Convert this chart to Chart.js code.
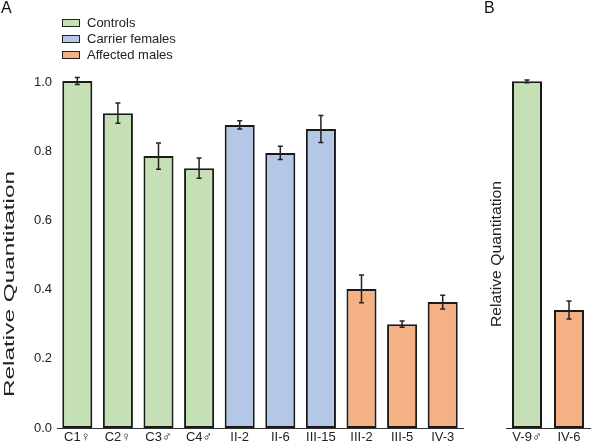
<!DOCTYPE html>
<html>
<head>
<meta charset="utf-8">
<script src="https://cdn.jsdelivr.net/npm/chart.js@4/dist/chart.umd.min.js"></script>
<style>
  body { margin: 0; background: #fff; font-family: 'Liberation Sans', Arial, sans-serif; }
  #wrap { position: relative; width: 600px; height: 448px; }
  #graphA { position: absolute; left: 0; top: 0; }
  #graphB { position: absolute; left: 470px; top: 0; }
  .panel { position: absolute; font-size: 16px; color: #111; }
  #legend { position: absolute; left: 62px; top: 15px; font-size: 13px; color: #222; }
  #legend div { height: 16px; line-height: 16px; display: flex; align-items: center; }
  #legend span.box { display: inline-block; width: 16px; height: 6px; border: 1.5px solid #222; margin-right: 7px; }
</style>
</head>
<body>
<div id="wrap">
  <canvas id="graphA" width="470" height="448"></canvas>
  <canvas id="graphB" width="130" height="448"></canvas>
  <div class="panel" style="left:1px; top:-1px;">A</div>
  <div class="panel" style="left:484px; top:-1px;">B</div>
  <div id="legend"></div>
</div>
<script>
// panel A
const labelsA = ['C1♀', 'C2♀', 'C3♂', 'C4♂', 'II-2', 'II-6', 'III-15', 'III-2', 'III-5', 'IV-3'];
const valuesA = [1.003, 0.910, 0.786, 0.751, 0.876, 0.795, 0.864, 0.402, 0.300, 0.364];
const errorsA = [0.010, 0.029, 0.038, 0.029, 0.012, 0.019, 0.039, 0.040, 0.009, 0.020];
const groupsA = ['Controls', 'Controls', 'Controls', 'Controls',
  'Carrier females', 'Carrier females', 'Carrier females',
  'Affected males', 'Affected males', 'Affected males'];

// panel B
const labelsB = ['V-9♂', 'IV-6'];
const valuesB = [1.002, 0.341];
const errorsB = [0.004, 0.026];
const groupsB = ['Controls', 'Affected males'];

const yTicks = [0, 0.2, 0.4, 0.6, 0.8, 1.0];
const groupNames = ['Controls', 'Carrier females', 'Affected males'];
const groupColors = {
  'Controls': '#c5e0b4',
  'Carrier females': '#b4c7e7',
  'Affected males': '#f4b183',
};
const yTitle = 'Relative Quantitation';

const legendRef = document.getElementById('legend');
for (const name of groupNames) {
  const row = document.createElement('div');
  row.innerHTML = `<span class="box" style="background:${groupColors[name]}"></span>${name}`;
  legendRef.appendChild(row);
}

// draws the error bars from the data arrays using the chart scales
const errorBarPlugin = {
  id: 'errorBars',
  afterDatasetsDraw(chart, args, opts) {
    const ctx = chart.ctx;
    const meta = chart.getDatasetMeta(0);
    const y = chart.scales.y;
    const vals = chart.data.datasets[0].data;
    ctx.save();
    ctx.strokeStyle = '#222';
    ctx.lineWidth = 1.5;
    meta.data.forEach((bar, i) => {
      const e = opts.errors[i];
      const top = y.getPixelForValue(vals[i] + e);
      const bottom = y.getPixelForValue(vals[i] - e);
      ctx.beginPath();
      ctx.moveTo(bar.x, top);
      ctx.lineTo(bar.x, bottom);
      ctx.moveTo(bar.x - 2.5, top);
      ctx.lineTo(bar.x + 2.5, top);
      ctx.moveTo(bar.x - 2.5, bottom);
      ctx.lineTo(bar.x + 2.5, bottom);
      ctx.stroke();
    });
    ctx.restore();
  },
};

// the y title in panel A is stretched along its length, so draw it by hand
const yTitlePlugin = {
  id: 'yTitle',
  afterDraw(chart, args, opts) {
    const ctx = chart.ctx;
    ctx.save();
    ctx.font = '15px "Liberation Sans"';
    ctx.fillStyle = '#222';
    ctx.textAlign = 'center';
    ctx.textBaseline = 'middle';
    const w = ctx.measureText(yTitle).width;
    ctx.translate(opts.x, opts.y);
    ctx.rotate(-Math.PI / 2);
    ctx.scale(opts.len / w, 1);
    ctx.fillText(yTitle, 0, 0);
    ctx.restore();
  },
};

function makeChart(el, labels, values, errors, groups, opt) {
  return new Chart(el, {
    type: 'bar',
    data: {
      labels: labels,
      datasets: [{
        data: values,
        backgroundColor: groups.map(g => groupColors[g]),
        borderColor: '#1a1a1a',
        borderWidth: 2,
        borderSkipped: false,
        barPercentage: opt.barPct,
        categoryPercentage: 1,
        clip: false,
      }],
    },
    options: {
      responsive: false,
      animation: false,
      layout: { padding: { top: 82, bottom: 0, left: opt.padLeft, right: opt.padRight } },
      plugins: {
        legend: { display: false },
        tooltip: { enabled: false },
        errorBars: { errors: errors },
        yTitle: opt.title,
      },
      scales: {
        x: {
          grid: { display: false, drawTicks: false },
          border: { display: true, color: '#333', width: 1 },
          ticks: { color: '#222', font: { family: 'Liberation Sans', size: 13 }, padding: 2, maxRotation: 0, autoSkip: false },
          afterFit: (s) => { s.height = 20; },
        },
        y: {
          min: 0,
          max: 1,
          afterBuildTicks: (s) => { s.ticks = yTicks.map(v => ({ value: v })); },
          grid: { display: false, drawTicks: false },
          border: { display: false },
          ticks: {
            display: opt.showTicks,
            color: '#222',
            font: { family: 'Liberation Sans', size: 13 },
            padding: 5,
            callback: (v) => v.toFixed(1),
          },
          afterFit: (s) => { s.width = opt.yWidth; },
        },
      },
    },
    plugins: [errorBarPlugin, yTitlePlugin],
  });
}

makeChart(document.getElementById('graphA'), labelsA, valuesA, errorsA, groupsA,
  { barPct: 0.74, padLeft: 0, padRight: 7, yWidth: 57, showTicks: true,
    title: { x: 10, y: 284, len: 226 } });
makeChart(document.getElementById('graphB'), labelsB, valuesB, errorsB, groupsB,
  { barPct: 0.714, padLeft: 15, padRight: 10, yWidth: 21, showTicks: false,
    title: { x: 27, y: 254, len: 146 } });
</script>
</body>
</html>
